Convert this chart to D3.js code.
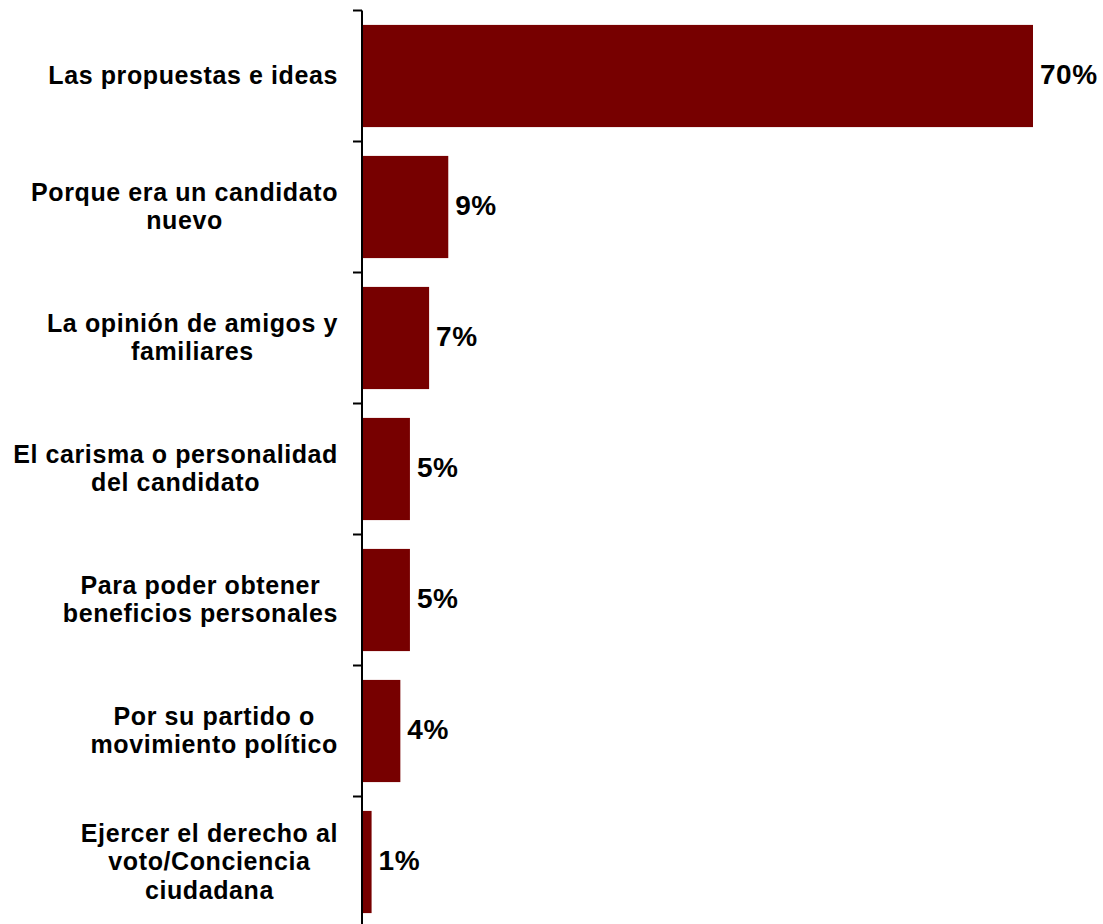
<!DOCTYPE html>
<html lang="es">
<head>
  <meta charset="UTF-8" />
  <title>Motivos del voto</title>
  <script src="https://d3js.org/d3.v7.min.js"></script>
  <style>
    html, body { margin: 0; padding: 0; background: #fff; }
    svg { display: block; }
    text { font-family: "Liberation Sans", Arial, sans-serif; font-weight: bold; fill: #000; }
  </style>
</head>
<body>
  <svg id="chart" width="1103" height="924"></svg>

  <script>
    // categories (line breaks as in the original chart)
    const categories = [
      "Las propuestas e ideas",
      "Porque era un candidato\nnuevo",
      "La opinión de amigos y\nfamiliares",
      "El carisma o personalidad\ndel candidato",
      "Para poder obtener\nbeneficios personales",
      "Por su partido o\nmovimiento político",
      "Ejercer el derecho al\nvoto/Conciencia\nciudadana"
    ];
    const values = [70, 9, 7, 5, 5, 4, 1];
    const valueLabels = ["70%", "9%", "7%", "5%", "5%", "4%", "1%"];

    const data = categories.map((c, i) => ({ cat: c, value: values[i], label: valueLabels[i] }));

    const svg = d3.select("#chart");

    const axisX = 362,
          topY = 10.5,
          step = 131,
          labelRight = 338,
          lineH = 28.5;

    const y = d3.scaleBand()
      .domain(categories)
      .range([topY, topY + step * categories.length])
      .paddingInner(0.22)
      .paddingOuter(0.11);

    const x = d3.scaleLinear()
      .domain([0, 70])
      .range([axisX, 1033]);

    // bars
    svg.selectAll("rect.bar")
      .data(data)
      .join("rect")
      .attr("class", "bar")
      .attr("x", x(0) + 1)
      .attr("y", d => y(d.cat))
      .attr("width", d => x(d.value) - x(0) - 1)
      .attr("height", y.bandwidth())
      .attr("fill", "#770000");

    // axis line + ticks at band boundaries
    svg.append("line")
      .attr("x1", axisX).attr("x2", axisX)
      .attr("y1", y.range()[0]).attr("y2", y.range()[1])
      .attr("stroke", "#000").attr("stroke-width", 2);

    svg.selectAll("line.tick")
      .data(categories)
      .join("line")
      .attr("class", "tick")
      .attr("x1", axisX - 9).attr("x2", axisX)
      .attr("y1", d => y(d) - y.step() * y.paddingInner() / 2)
      .attr("y2", d => y(d) - y.step() * y.paddingInner() / 2)
      .attr("stroke", "#000").attr("stroke-width", 2);

    // value labels
    svg.selectAll("text.value")
      .data(data)
      .join("text")
      .attr("class", "value")
      .attr("x", d => x(d.value) + 7)
      .attr("y", d => y(d.cat) + y.bandwidth() / 2 + 8)
      .style("font-size", "28px")
      .style("letter-spacing", "0.5px")
      .text(d => d.label);

    // category labels, each block centered on its widest line, right aligned
    data.forEach(d => {
      const lines = d.cat.split("\n");
      const cy = y(d.cat) + y.bandwidth() / 2;
      const g = svg.append("g");
      const texts = lines.map((ln, i) => g.append("text")
        .attr("y", cy + 8 + (i - (lines.length - 1) / 2) * lineH)
        .attr("text-anchor", "middle")
        .style("font-size", "25px")
        .style("letter-spacing", "0.6px")
        .text(ln));
      const maxW = d3.max(texts, t => t.node().getComputedTextLength());
      texts.forEach(t => t.attr("x", labelRight - maxW / 2));
    });
  </script>
</body>
</html>
